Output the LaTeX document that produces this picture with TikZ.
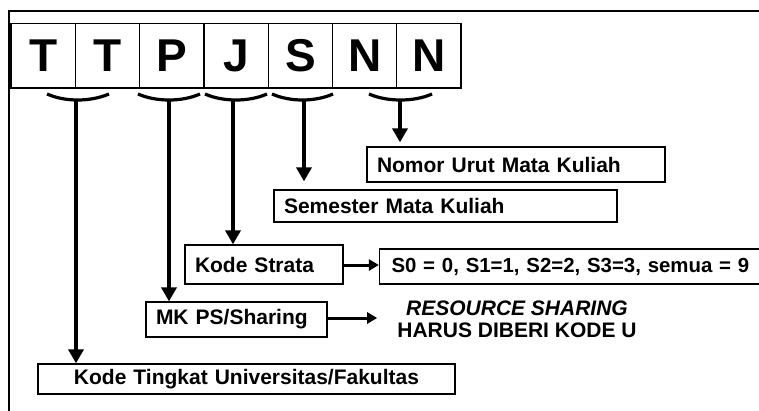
\documentclass[tikz,border=0pt]{standalone}
\usepackage{fontspec}
\setmainfont{Liberation Sans}
\usetikzlibrary{arrows.meta}
\begin{document}
\begin{tikzpicture}[x=1pt,y=-1pt,
  letterbox/.style={draw, line width=1.3, minimum width=64.3pt, minimum height=64.5pt, inner sep=0pt,
    font=\fontsize{46}{50}\selectfont\bfseries},
  infobox/.style={draw, line width=1.3, inner xsep=10pt, inner ysep=0pt, align=left,
    font=\fontsize{21}{25}\selectfont\bfseries},
  brace/.style={line width=3.2},
  vline/.style={line width=4, -{Triangle[width=15pt,length=14pt]}},
  hline/.style={line width=3, -{Triangle[width=11pt,length=10pt]}}]
\useasboundingbox (0,0) rectangle (759,410);
\clip (0,0) rectangle (759,410);
% frame
\draw[line width=2] (9,412) -- (9,11) -- (762,11);
% letter boxes
\foreach \t [count=\i] in {T,T,P,J,S,N,N}{
  \node[letterbox] (l\i) at ({11+32.15+64.3*(\i-1)},55.75) {\t};
}
% braces
\coordinate (b1) at (76,99.5);
\coordinate (b2) at (169,99.5);
\coordinate (b3) at (233,99.5);
\coordinate (b4) at (304,99.5);
\coordinate (b5) at (400,99.5);
\draw[brace] (47,94) .. controls (65,102) and (90,102) .. (109,94);
\draw[brace] (138,94) .. controls (156,102) and (182,102) .. (200,94);
\draw[brace] (205,94) .. controls (223,102) and (249,102) .. (267,94);
\draw[brace] (272,94) .. controls (290,102) and (315,102) .. (333,94);
\draw[brace] (369,94) .. controls (387,102) and (414,102) .. (432,94);
% boxes
\node[infobox, text width=278pt, minimum height=35pt] (nomor) at (516,164.5) {Nomor Urut Mata Kuliah};
\node[infobox, text width=323pt, minimum height=32pt] (sem) at (445.5,206) {Semester Mata Kuliah};
\node[infobox, text width=138pt, minimum height=39pt] (ks) at (264,264.5) {Kode Strata};
\node[infobox, inner xsep=12pt, text width=377pt, minimum height=35pt, font=\fontsize{20.4}{25}\selectfont\bfseries] (s0) at (580,266.5) {S0 = 0, S1=1, S2=2, S3=3, semua = 9};
\node[infobox, text width=161pt, minimum height=35pt] (mk) at (236.5,319.5) {MK PS/Sharing};
\node[infobox, align=center, text width=397pt, minimum height=30pt] (kt) at (246.5,379) {Kode Tingkat Universitas/Fakultas};
\node[font=\fontsize{21}{22}\selectfont\bfseries, align=center, inner xsep=20pt, inner ysep=0pt] (rs) at (517,319)
  {\textit{RESOURCE SHARING}\\HARUS DIBERI KODE U};
% arrows
\draw[vline] (b1) -- (b1 |- kt.north);
\draw[vline] (b2) -- (b2 |- mk.north);
\draw[vline] (b3) -- (b3 |- ks.north);
\draw[vline, shorten >=8pt] (b4) -- (b4 |- sem.north);
\draw[vline, shorten >=4pt] (b5) -- (b5 |- nomor.north);
\draw[hline] (ks.east |- 0,265) -- (s0.west |- 0,265);
\draw[hline] (mk.east |- 0,318) -- (rs.west |- 0,318);
\end{tikzpicture}
\end{document}
